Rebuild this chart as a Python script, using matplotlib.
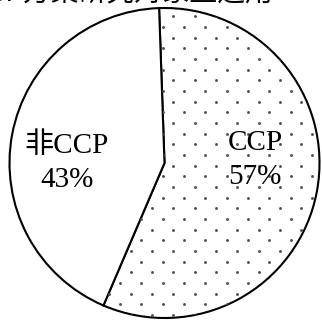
import numpy as np
import matplotlib
matplotlib.use("Agg")
import matplotlib.pyplot as plt

categories = ["CCP", "非CCP"]
values = [57, 43]
title = "CCP方案研究对象直运用"

W, H = 322, 321
fig = plt.figure(figsize=(W / 100, H / 100), dpi=100)
fig.patch.set_facecolor("white")

cx, cy, R = 164.5, 163.0, 155.0  # pixel layout of the pie
ax = fig.add_axes([(cx - R) / W, (H - cy - R) / H, 2 * R / W, 2 * R / H])

wedges, _ = ax.pie(values, startangle=92, counterclock=False, radius=1,
                   colors=["white", "white"],
                   wedgeprops=dict(edgecolor="black", linewidth=1.5))
ax.set_xlim(-1, 1)
ax.set_ylim(-1, 1)
ax.set_aspect("equal")
ax.axis("off")

# dotted texture inside the CCP wedge
xs, ys = [], []
for i, py in enumerate(np.arange(-5.05, H + 10, 10.67)):
    off = 0 if i % 2 == 0 else 10.67
    for px in np.arange(-18.63 + off, W + 20, 21.33):
        xs.append((px - cx) / R)
        ys.append((cy - py) / R)
dots = ax.scatter(xs, ys, s=4.5, color="#555555", linewidths=0, zorder=3)
dots.set_clip_path(wedges[0])

fam = ["Liberation Serif", "Noto Sans CJK SC"]
ax.text(0.585, 0.02, f"{categories[0]}\n{values[0]}%", ha="center", va="center",
        fontsize=21, family=fam, linespacing=1.4, zorder=4)
ax.text(-0.63, 0.0, f"{categories[1]}\n{values[1]}%", ha="center", va="center",
        fontsize=21, family=fam, linespacing=1.4, zorder=4)

fig.text(122 / W, (H - 9) / H, title, ha="center", va="bottom",
         fontsize=20, family=["Noto Sans CJK SC", "DejaVu Sans"])

fig.savefig("out.png", dpi=100, facecolor="white")
